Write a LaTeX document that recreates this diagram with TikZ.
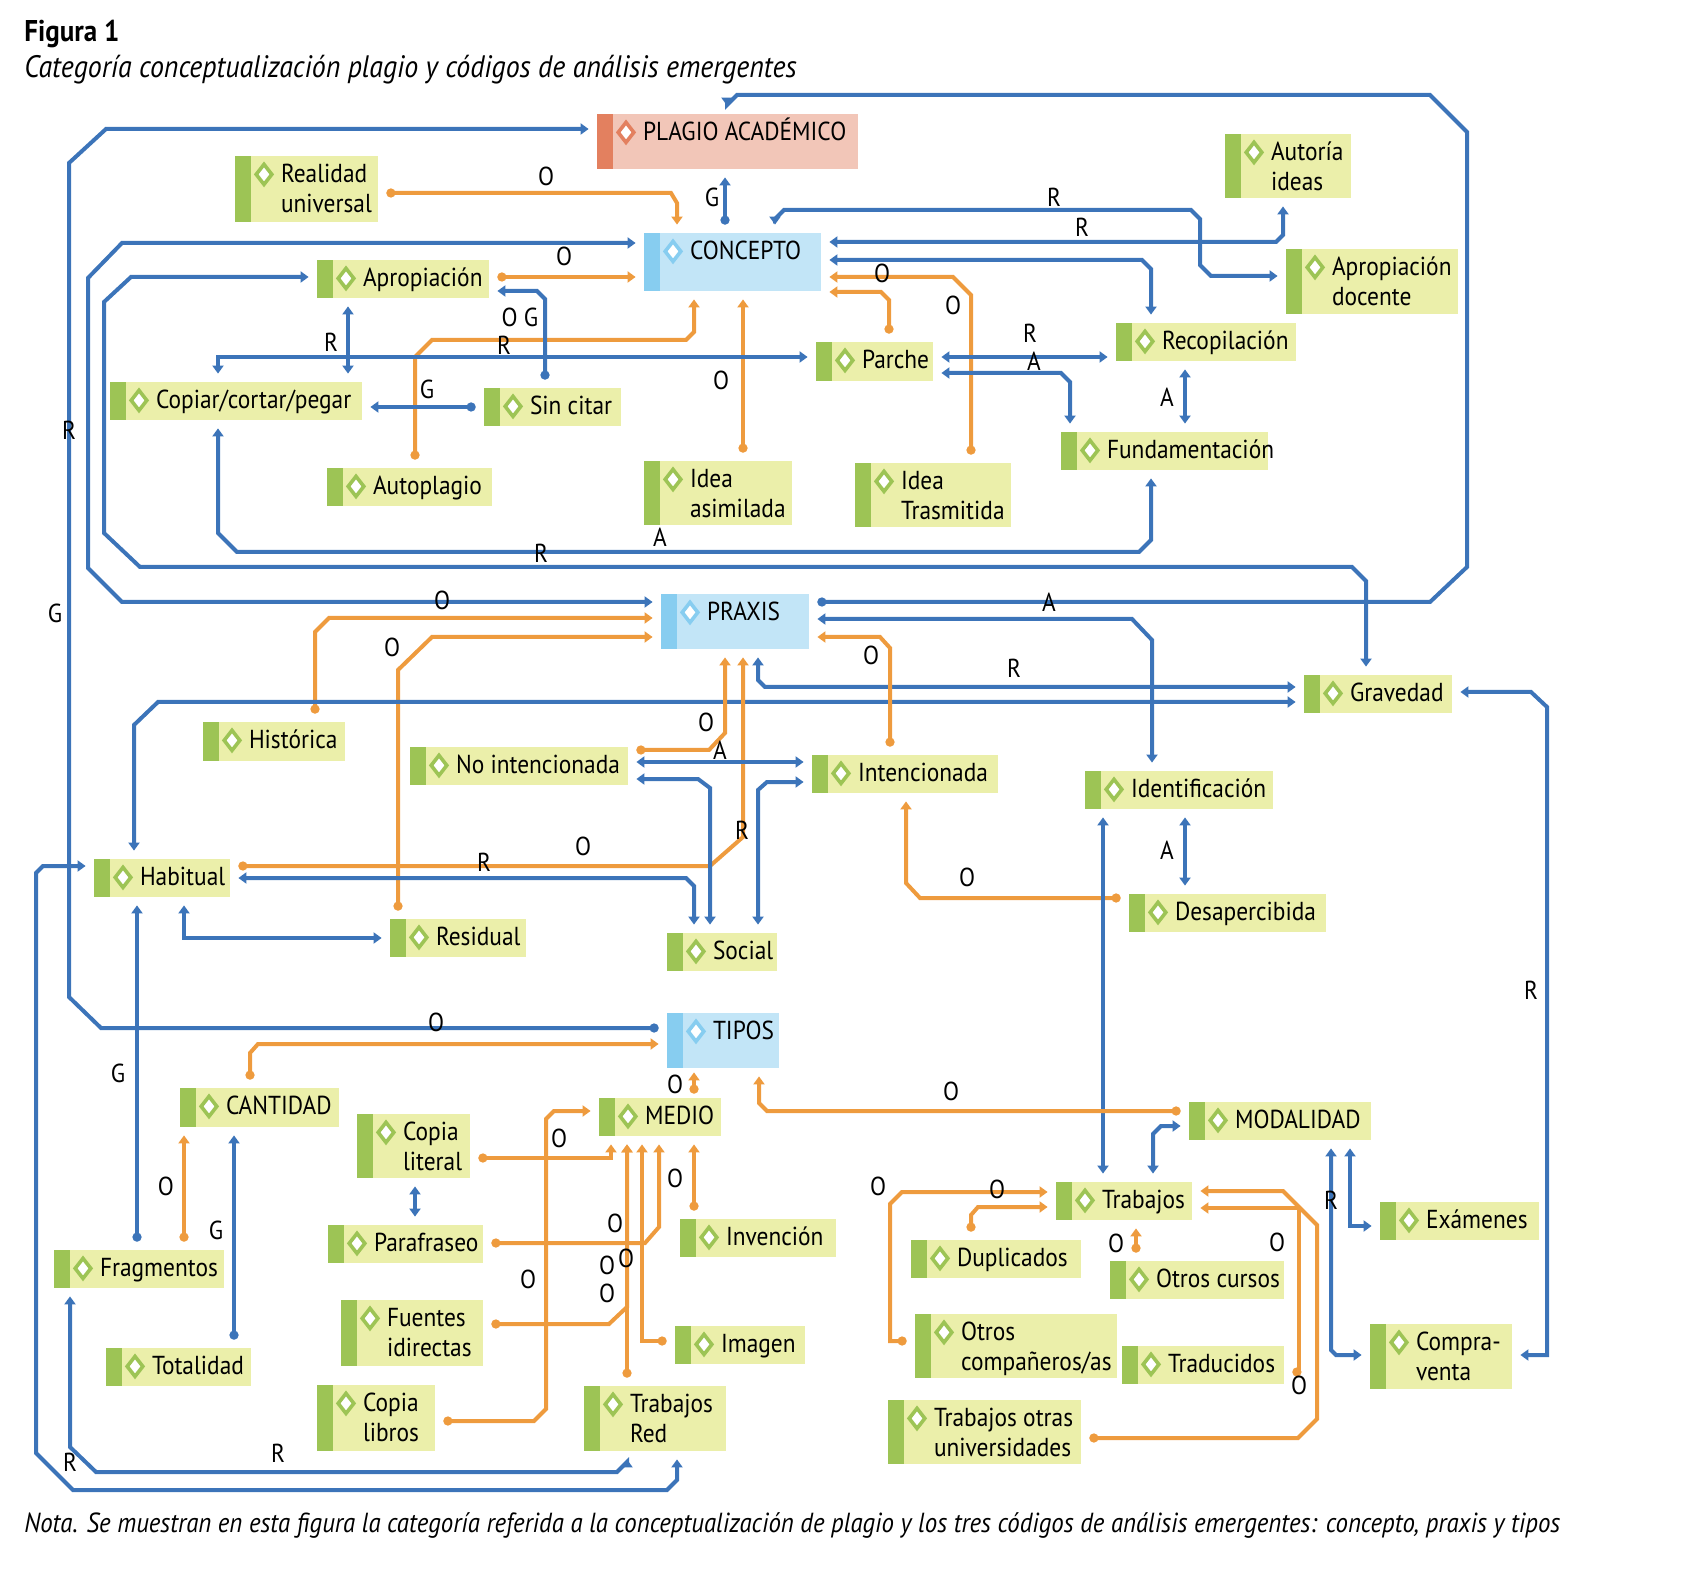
\documentclass[tikz,border=0pt]{standalone}
\usepackage{fontspec}
\setmainfont{PT Sans}[FakeStretch=0.9]
\usetikzlibrary{arrows.meta}
\definecolor{codefill}{HTML}{EBEFAA}
\definecolor{codebar}{HTML}{9DC455}
\definecolor{catfill}{HTML}{C2E5F7}
\definecolor{catbar}{HTML}{87CDF0}
\definecolor{topfill}{HTML}{F2C6B8}
\definecolor{topbar}{HTML}{E3805F}
\definecolor{lblue}{HTML}{3C74B9}
\definecolor{lorange}{HTML}{EE9B3E}
\newcommand{\boxdeco}[1]{%
  \fill[#1] (path picture bounding box.north west) rectangle ([xshift=8pt]path picture bounding box.south west);
  \draw[#1, fill=white, line width=1.8pt] ([xshift=14.5pt,yshift=-4.2pt]path picture bounding box.north west)
    -- ++(3.9pt,-5pt) -- ++(-3.9pt,-5pt) -- ++(-3.9pt,5pt) -- cycle;}
% box: style, name, x1, y1, x2, y2, text
\newcommand{\cnode}[7][code]{%
  \node[#1, minimum width={(#5-#3)*0.5pt}, minimum height={(#6-#4)*0.5pt}] (#2) at ({(#3+#5)/2},{(#4+#6)/2}) {};
  \node[ctext] at ([xshift=23pt,yshift=-13.5pt]#2.north west) {\begin{tabular}[t]{@{}l@{}}#7\end{tabular}};}
\tikzset{
  code/.style={fill=codefill, inner sep=0, path picture={\boxdeco{codebar}}},
  cat/.style={fill=catfill, inner sep=0, path picture={\boxdeco{catbar}}},
  top/.style={fill=topfill, inner sep=0, path picture={\boxdeco{topbar}}},
  ctext/.style={anchor=base west, inner sep=0, font=\fontsize{13}{15}\selectfont},
  lbl/.style={inner sep=0, font=\fontsize{13}{15}\selectfont},
  rel/.style={line width=2pt, shorten >=4pt, shorten <=4pt},
  bl/.style={rel, draw=lblue},
  or/.style={rel, draw=lorange},
  ar/.style={-{Triangle[length=4pt,width=5.5pt]}},
  dar/.style={{Triangle[length=4pt,width=5.5pt]}-{Triangle[length=4pt,width=5.5pt]}},
  dot/.style={{Circle[length=4.5pt]}-{Triangle[length=4pt,width=5.5pt]}},
}
\begin{document}
\begin{tikzpicture}[x=0.5pt,y=-0.5pt]
\useasboundingbox (0,0) rectangle (1682,1572);
\node[anchor=base west, inner sep=0, font=\fontsize{15}{18}\selectfont\bfseries] (fig) at (24,42) {Figura 1};
\node[anchor=base west, inner sep=0, font=\fontsize{15.5}{18}\selectfont\itshape] (sub) at (24,78) {Categoría conceptualización plagio y códigos de análisis emergentes};
\node[anchor=base west, inner sep=0, font=\fontsize{13.8}{16}\selectfont\itshape] (nota) at (24,1532) {Nota. Se muestran en esta figura la categoría referida a la conceptualización de plagio y los tres códigos de análisis emergentes: concepto, praxis y tipos};

\cnode[top]{plagio}{597}{114}{858}{169}{PLAGIO ACADÉMICO}
\cnode[cat]{concepto}{644}{233}{821}{291}{CONCEPTO}
\cnode[cat]{praxis}{661}{594}{809}{649}{PRAXIS}
\cnode[cat]{tipos}{667}{1013}{779}{1068}{TIPOS}
\cnode{realidad}{235}{156}{378}{222}{Realidad\\universal}
\cnode{autoria}{1225}{134}{1351}{198}{Autoría\\ideas}
\cnode{apdoc}{1286}{249}{1458}{314}{Apropiación\\docente}
\cnode{apropiacion}{317}{260}{489}{298}{Apropiación}
\cnode{parche}{816}{342}{933}{381}{Parche}
\cnode{recop}{1116}{323}{1296}{361}{Recopilación}
\cnode{copiar}{110}{382}{362}{420}{Copiar/cortar/pegar}
\cnode{sincitar}{484}{388}{621}{426}{Sin citar}
\cnode{fundam}{1061}{432}{1268}{470}{Fundamentación}
\cnode{autoplagio}{327}{468}{492}{506}{Autoplagio}
\cnode{ideaasim}{644}{461}{792}{525}{Idea\\asimilada}
\cnode{ideatras}{855}{463}{1011}{527}{Idea\\Trasmitida}
\cnode{gravedad}{1304}{675}{1452}{713}{Gravedad}
\cnode{historica}{203}{722}{345}{761}{Histórica}
\cnode{nointenc}{410}{747}{628}{785}{No intencionada}
\cnode{intenc}{812}{755}{998}{793}{Intencionada}
\cnode{identif}{1085}{771}{1273}{809}{Identificación}
\cnode{habitual}{94}{859}{230}{897}{Habitual}
\cnode{desaperc}{1129}{894}{1326}{932}{Desapercibida}
\cnode{residual}{390}{919}{526}{957}{Residual}
\cnode{social}{667}{933}{777}{971}{Social}
\cnode{cantidad}{180}{1088}{339}{1127}{CANTIDAD}
\cnode{medio}{599}{1098}{721}{1136}{MEDIO}
\cnode{modalidad}{1189}{1102}{1371}{1140}{MODALIDAD}
\cnode{copialit}{357}{1114}{470}{1178}{Copia\\literal}
\cnode{trabajos}{1056}{1182}{1192}{1220}{Trabajos}
\cnode{examenes}{1380}{1202}{1539}{1240}{Exámenes}
\cnode{parafraseo}{328}{1225}{483}{1263}{Parafraseo}
\cnode{invencion}{680}{1219}{836}{1257}{Invención}
\cnode{duplicados}{911}{1240}{1081}{1278}{Duplicados}
\cnode{otroscursos}{1110}{1261}{1284}{1299}{Otros cursos}
\cnode{fragmentos}{54}{1250}{224}{1288}{Fragmentos}
\cnode{fuentes}{341}{1300}{483}{1366}{Fuentes\\idirectas}
\cnode{imagen}{675}{1326}{805}{1364}{Imagen}
\cnode{otroscomp}{915}{1314}{1117}{1378}{Otros\\compañeros/as}
\cnode{traducidos}{1122}{1346}{1284}{1384}{Traducidos}
\cnode{compraventa}{1370}{1324}{1512}{1389}{Compra-\\venta}
\cnode{totalidad}{106}{1348}{251}{1386}{Totalidad}
\cnode{copialib}{317}{1385}{435}{1451}{Copia\\libros}
\cnode{trabred}{584}{1386}{726}{1451}{Trabajos\\Red}
\cnode{trabotras}{888}{1400}{1081}{1464}{Trabajos otras\\universidades}

% concepto
\draw[bl,dot] (tipos.west|-0,1028) -- (101,1028) -- (69,997) -- (69,163) -- (106,129) -- (plagio.west|-0,129);
\draw[bl,dot] (praxis.east|-0,602) -- (1430,602) -- (1467,567) -- (1467,132) -- (1430,95) -- (737,95) -- (727,105) -- (plagio.north-|727,0);
\draw[bl,dot] (concepto.north-|725,0) -- (plagio.south-|725,0);
\draw[or,dot] (realidad.east|-0,193) -- (671,193) -- (677,203) -- (concepto.north-|677,0);
\draw[bl,dar] (concepto.north-|775,0) -- (775,219) -- (784,210) -- (1191,210) -- (1200,219) -- (1200,265) -- (1211,276) -- (apdoc.west|-0,276);
\draw[bl,dar] (concepto.east|-0,242) -- (1276,242) -- (1283,235) -- (autoria.south-|1283,0);
\draw[bl,dar] (concepto.east|-0,260) -- (1142,260) -- (1151,269) -- (recop.north-|1151,0);
\draw[or,dot] (ideatras.north-|971,0) -- (971,295) -- (953,277) -- (concepto.east|-0,277);
\draw[or,dot] (parche.north-|889,0) -- (889,300) -- (881,292) -- (concepto.east|-0,292);
\draw[bl,dar] (concepto.west|-0,243) -- (122,243) -- (88,278) -- (88,568) -- (122,602) -- (praxis.west|-0,602);
\draw[or,dot] (apropiacion.east|-0,277) -- (concepto.west|-0,277);
\draw[bl,dar] (apropiacion.west|-0,277) -- (131,277) -- (104,302) -- (104,533) -- (140,567) -- (1352,567) -- (1366,581) -- (gravedad.north-|1366,0);
\draw[or,dot] (autoplagio.north-|415,0) -- (415,357) -- (432,340) -- (686,340) -- (694,332) -- (concepto.south-|694,0);
\draw[or,dot] (ideaasim.north-|743,0) -- (concepto.south-|743,0);
\draw[bl,dar] (copiar.north-|218,0) -- (218,357) -- (parche.west|-0,357);
\draw[bl,dar] (apropiacion.south-|348,0) -- (copiar.north-|348,0);
\draw[bl,dot] (sincitar.north-|545,0) -- (545,299) -- (537,291) -- (apropiacion.east|-0,291);
\draw[bl,dot] (sincitar.west|-0,407) -- (copiar.east|-0,407);
\draw[bl,dar] (parche.east|-0,357) -- (recop.west|-0,357);
\draw[bl,dar] (parche.east|-0,373) -- (1061,373) -- (1070,382) -- (fundam.north-|1070,0);
\draw[bl,dar] (recop.south-|1185,0) -- (fundam.north-|1185,0);
\draw[bl,dar] (copiar.south-|218,0) -- (218,533) -- (237,552) -- (1139,552) -- (1151,540) -- (fundam.south-|1151,0);
% praxis
\draw[or,dot] (historica.north-|315,0) -- (315,632) -- (329,618) -- (praxis.west|-0,618);
\draw[or,dot] (residual.north-|398,0) -- (398,670) -- (432,637) -- (praxis.west|-0,637);
\draw[bl,dar] (gravedad.west|-0,702) -- (158,702) -- (134,725) -- (habitual.north-|134,0);
\draw[bl,dar] (praxis.south-|758,0) -- (758,680) -- (765,687) -- (gravedad.west|-0,687);
\draw[bl,dar] (praxis.east|-0,619) -- (1132,619) -- (1152,640) -- (identif.north-|1152,0);
\draw[or,dot] (intenc.north-|890,0) -- (890,648) -- (880,637) -- (praxis.east|-0,637);
\draw[or,dot] (nointenc.east|-0,750) -- (709,750) -- (725,733) -- (praxis.south-|725,0);
\draw[or,dot] (habitual.east|-0,866) -- (710,866) -- (743,837) -- (praxis.south-|743,0);
\draw[bl,dar] (nointenc.east|-0,762) -- (intenc.west|-0,762);
\draw[bl,dar] (nointenc.east|-0,779) -- (698,779) -- (710,788) -- (social.north-|710,0);
\draw[bl,dar] (habitual.east|-0,878) -- (686,878) -- (694,886) -- (social.north-|694,0);
\draw[bl,dar] (social.north-|758,0) -- (758,790) -- (767,782) -- (intenc.west|-0,782);
\draw[or,dot] (desaperc.west|-0,898) -- (920,898) -- (906,883) -- (intenc.south-|906,0);
\draw[bl,dar] (identif.south-|1103,0) -- (trabajos.north-|1103,0);
\draw[bl,dar] (identif.south-|1185,0) -- (desaperc.north-|1185,0);
\draw[bl,dar] (gravedad.east|-0,692) -- (1531,692) -- (1547,707) -- (1547,1355) -- (compraventa.east|-0,1355);
\draw[bl,dar] (habitual.west|-0,866) -- (43,866) -- (36,873) -- (36,1453) -- (73,1490) -- (667,1490) -- (677,1480) -- (trabred.south-|677,0);
\draw[bl,dar] (habitual.south-|184,0) -- (184,938) -- (residual.west|-0,938);
\draw[bl,dot] (fragmentos.north-|137,0) -- (habitual.south-|137,0);
% tipos
\draw[or,dot] (cantidad.north-|250,0) -- (250,1053) -- (258,1044) -- (tipos.west|-0,1044);
\draw[or,dot] (fragmentos.north-|184,0) -- (cantidad.south-|184,0);
\draw[bl,dot] (totalidad.north-|234,0) -- (cantidad.south-|234,0);
\draw[bl,dar] (fragmentos.south-|70,0) -- (70,1447) -- (96,1472) -- (617,1472) -- (627,1462) -- (trabred.south-|627,0);
\draw[bl,dar] (copialit.south-|415,0) -- (parafraseo.north-|415,0);
\draw[or,dot,shorten >=2pt,shorten <=2pt] (medio.north-|694,0) -- (tipos.south-|694,0);
\draw[or,dot] (modalidad.west|-0,1111) -- (767,1111) -- (759,1103) -- (tipos.south-|759,0);
\draw[or,dot] (copialib.east|-0,1421) -- (534,1421) -- (546,1409) -- (546,1119) -- (554,1111) -- (medio.west|-0,1111);
\draw[or,dot] (copialit.east|-0,1158) -- (611,1158) -- (medio.south-|611,0);
\draw[or,dot] (trabred.north-|627,0) -- (medio.south-|627,0);
\draw[or,dot] (imagen.west|-0,1341) -- (642,1341) -- (medio.south-|642,0);
\draw[or,dot] (parafraseo.east|-0,1243) -- (645,1243) -- (659,1227) -- (medio.south-|659,0);
\draw[or,dot] (fuentes.east|-0,1324) -- (609,1324) -- (627,1307) -- (medio.south-|627,0);
\draw[or,dot] (invencion.north-|694,0) -- (medio.south-|694,0);
\draw[bl,dar] (trabajos.north-|1153,0) -- (1153,1134) -- (1161,1126) -- (modalidad.west|-0,1126);
\draw[bl,dar] (modalidad.south-|1331,0) -- (1331,1350) -- (1336,1355) -- (compraventa.west|-0,1355);
\draw[bl,dar] (modalidad.south-|1350,0) -- (1350,1226) -- (examenes.west|-0,1226);
\draw[or,dot] (duplicados.north-|971,0) -- (971,1215) -- (978,1207) -- (trabajos.west|-0,1207);
\draw[or,dot] (otroscomp.west|-0,1341) -- (890,1341) -- (890,1204) -- (902,1192) -- (trabajos.west|-0,1192);
\draw[or,dot] (otroscursos.north-|1136,0) -- (trabajos.south-|1136,0);
\draw[or,dot] (traducidos.east|-0,1372) -- (1299,1372) -- (1299,1208) -- (trabajos.east|-0,1208);
\draw[or,dot] (trabotras.east|-0,1438) -- (1298,1438) -- (1317,1419) -- (1317,1225) -- (1283,1191) -- (trabajos.east|-0,1191);

% labels
\foreach \t/\x/\y in {R/69/430, G/55/613, O/436/1022, A/1049/602, G/712/197, O/546/176, R/1054/197, R/1082/227,
  O/882/273, O/953/305, O/442/600, O/564/256, R/541/553, O/721/380, R/331/342, R/504/345, O G/520/317, G/427/389,
  R/1030/333, A/1034/361, A/1167/397, A/660/537, O/392/647, R/1014/668, O/871/655, O/706/722, A/720/750,
  R/742/830, O/583/846, R/484/862, O/967/877, A/1167/850, R/1531/990, G/118/1073, O/166/1186, G/216/1230,
  R/70/1462, R/278/1453, O/675/1084, O/951/1091, O/559/1138, O/528/1279, O/615/1223, O/607/1265, O/626/1258,
  O/607/1293, O/675/1178, R/1331/1200, O/878/1186, O/997/1189, O/1116/1243, O/1277/1242, O/1299/1385}
  \node[lbl] at (\x,\y) {\t};
\end{tikzpicture}
\end{document}
